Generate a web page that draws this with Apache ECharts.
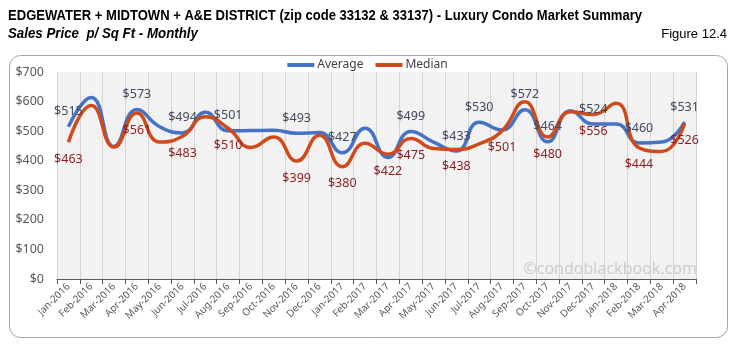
<!DOCTYPE html>
<html>
<head>
<meta charset="utf-8">
<script src="https://cdn.jsdelivr.net/npm/echarts@6/dist/echarts.min.js"></script>
<style>
  html, body { margin: 0; padding: 0; background: #fff; }
  #chart { width: 735px; height: 349px; }
</style>
</head>
<body>
<div id="chart"></div>
<script>
// Monthly sales price per square foot, Jan 2016 - Apr 2018
const months = [
  'Jan-2016', 'Feb-2016', 'Mar-2016', 'Apr-2016', 'May-2016', 'Jun-2016', 'Jul-2016',
  'Aug-2016', 'Sep-2016', 'Oct-2016', 'Nov-2016', 'Dec-2016', 'Jan-2017', 'Feb-2017',
  'Mar-2017', 'Apr-2017', 'May-2017', 'Jun-2017', 'Jul-2017', 'Aug-2017', 'Sep-2017',
  'Oct-2017', 'Nov-2017', 'Dec-2017', 'Jan-2018', 'Feb-2018', 'Mar-2018', 'Apr-2018'
];
const averagePrice = [
  515, 614, 448, 573, 515, 494, 564, 501, 502, 503, 493, 495, 427, 510,
  411, 499, 463, 433, 530, 504, 572, 464, 569, 524, 524, 460, 463, 531
];
const medianPrice = [
  463, 587, 446, 561, 463, 483, 549, 510, 445, 480, 399, 486, 380, 459,
  422, 475, 441, 438, 457, 501, 599, 480, 566, 556, 594, 444, 431, 526
];
// Only these months carry a value label
const labelledAverage = [0, 3, 5, 7, 10, 12, 15, 17, 18, 20, 21, 23, 25, 27];
const labelledMedian = [0, 3, 5, 7, 10, 12, 14, 15, 17, 19, 21, 23, 25, 27];
const yTicks = { min: 0, max: 700, step: 100 };

const textFont = '"Noto Sans", "Open Sans", sans-serif';
const headFont = '"Liberation Sans", Arial, sans-serif';

// Value labels sit on their own layer so they stay above both lines
function labelPoints(values, shown) {
  return shown.map(i => [months[i], values[i]]);
}

function labelSeries(name, values, shown, position, distance, color) {
  return {
    name: name, type: 'scatter', silent: true,
    data: labelPoints(values, shown),
    symbol: 'circle', symbolSize: 1,
    itemStyle: { color: 'transparent', opacity: 1 },
    label: {
      show: true, position: position, distance: distance,
      formatter: p => '$' + p.value[1],
      fontFamily: textFont, fontSize: 12.5, color: color, opacity: 1
    },
    labelLayout: { hideOverlap: false },
    z: 10
  };
}

const chart = echarts.init(document.getElementById('chart'), null, { renderer: 'canvas' });

chart.setOption({
  animation: false,
  backgroundColor: '#ffffff',
  graphic: [
    {
      type: 'rect', left: 9, top: 55, z: -10, silent: true,
      shape: { width: 718, height: 282, r: 11 },
      style: { fill: '#ffffff', stroke: '#a6a6a6', lineWidth: 1 }
    },
    {
      type: 'text', x: 8, y: 8, scaleX: 0.87,
      style: {
        text: 'EDGEWATER + MIDTOWN + A&E DISTRICT (zip code 33132 & 33137) - Luxury Condo Market Summary',
        font: 'bold 15px ' + headFont, fill: '#000000'
      }
    },
    {
      type: 'text', x: 8, y: 27, scaleX: 0.95,
      style: {
        text: 'Sales Price  p/ Sq Ft - Monthly',
        font: 'italic bold 14px ' + headFont, fill: '#000000'
      }
    },
    {
      type: 'text', right: 8, top: 28,
      style: { text: 'Figure 12.4', font: '13px ' + headFont, fill: '#000000' }
    },
    {
      type: 'text', right: 38, top: 261, z: 1,
      style: { text: '©condoblackbook.com', font: '16px ' + textFont, fill: '#cccccc' }
    }
  ],
  legend: {
    top: 54, left: 'center',
    itemWidth: 27, itemHeight: 4, itemGap: 12,
    icon: 'rect',
    textStyle: { fontFamily: textFont, fontSize: 12, color: '#404040', padding: [0, 0, 0, -2] },
    data: ['Average', 'Median']
  },
  grid: {
    left: 57, right: 39, top: 72, bottom: 70,
    show: true, backgroundColor: '#f2f2f2', borderWidth: 0
  },
  xAxis: {
    type: 'category',
    data: months,
    boundaryGap: true,
    axisLine: { show: true, lineStyle: { color: '#595959', width: 1 } },
    axisTick: { show: true, length: 5, lineStyle: { color: '#595959' } },
    splitLine: { show: true, lineStyle: { color: '#d4d4d4', width: 1 } },
    axisLabel: {
      interval: 0, rotate: 45, margin: 6,
      fontFamily: textFont, fontSize: 10, color: '#595959'
    }
  },
  yAxis: {
    type: 'value',
    min: yTicks.min, max: yTicks.max, interval: yTicks.step,
    axisLine: { show: false },
    axisTick: { show: false },
    splitLine: { show: false },
    axisLabel: {
      margin: 13, fontFamily: textFont, fontSize: 12.5, color: '#595959',
      formatter: v => '$' + v
    }
  },
  series: [
    {
      name: 'Average', type: 'line', smooth: 0.5,
      data: averagePrice,
      symbol: 'none',
      lineStyle: { color: '#4472c4', width: 3.5 },
      itemStyle: { color: '#4472c4' },
      z: 2
    },
    {
      name: 'Median', type: 'line', smooth: 0.5,
      data: medianPrice,
      symbol: 'none',
      lineStyle: { color: '#d04a1c', width: 3.5 },
      itemStyle: { color: '#d04a1c' },
      z: 2
    },
    labelSeries('Average values', averagePrice, labelledAverage, 'top', 8, '#404a5a'),
    labelSeries('Median values', medianPrice, labelledMedian, 'bottom', 10, '#8a1c1c')
  ]
});
</script>
</body>
</html>
